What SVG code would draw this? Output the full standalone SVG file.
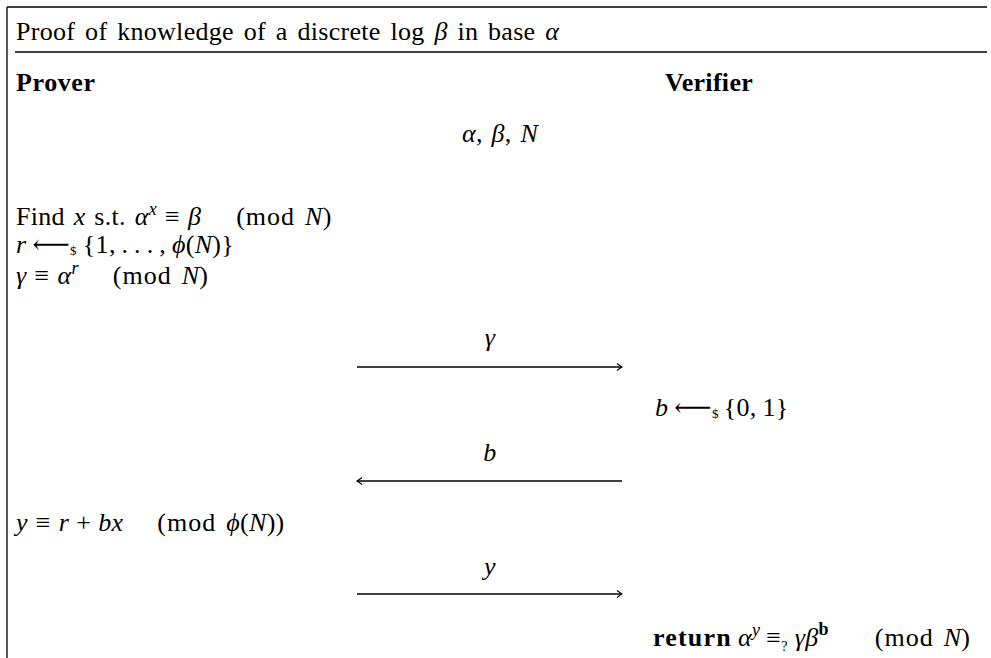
<svg xmlns="http://www.w3.org/2000/svg" width="991" height="658" viewBox="0 0 991 658">
<style>
text{font-family:"Liberation Serif","DejaVu Serif",serif;font-size:26px;fill:#000;word-spacing:2px;letter-spacing:0.3px}
.i{font-style:italic}
.b{font-weight:bold}
.s{font-size:18px}
.t{font-size:13px}
.m{letter-spacing:1px}
.frame{stroke:#000;stroke-width:1.3;fill:none}
.conn{stroke:#000;stroke-width:1.3;fill:none}
</style>
<defs>
<marker id="ah" viewBox="-8 -5 10 10" refX="0" refY="0" markerWidth="10" markerHeight="10" markerUnits="userSpaceOnUse" orient="auto">
<path d="M-5,-3.5 Q-1.5,-0.8 0,0 Q-1.5,0.8 -5,3.5" stroke="#000" stroke-width="1.1" fill="none"/>
</marker>
</defs>
<g id="frame">
<line class="frame" x1="7" y1="7" x2="7" y2="658"/>
<line class="frame" x1="7" y1="7" x2="987" y2="7"/>
<line class="frame" x1="15" y1="52" x2="987" y2="52"/>
</g>
<g id="title"><text x="16" y="40" style="word-spacing:3px">Proof of knowledge of a discrete log <tspan class="i">β</tspan> in base <tspan class="i">α</tspan></text></g>
<g id="prover"><text x="16" y="91" class="b" style="letter-spacing:0.6px">Prover</text></g>
<g id="verifier"><text x="665" y="91" class="b" style="letter-spacing:0.3px">Verifier</text></g>
<g id="public"><text x="500" y="142" text-anchor="middle"><tspan class="i">α</tspan>, <tspan class="i">β</tspan>, <tspan class="i">N</tspan></text></g>
<g id="prover-steps">
<text x="16" y="225">Find <tspan class="i">x</tspan> s.t. <tspan class="i">α</tspan><tspan class="i s" dy="-10">x</tspan><tspan dy="10" dx="8">≡</tspan><tspan class="i" dx="8">β</tspan><tspan class="m" dx="35">(mod</tspan><tspan class="i" dx="10">N</tspan>)</text>
<text x="16" y="253"><tspan class="i">r</tspan><tspan dx="6">⟵</tspan><tspan class="t" dy="2">$</tspan><tspan dy="-2" dx="6" style="word-spacing:-1px">{1, . . . , </tspan><tspan class="i">ϕ</tspan>(<tspan class="i">N</tspan>)}</text>
<text x="16" y="284"><tspan class="i">γ</tspan><tspan dx="8">≡</tspan><tspan class="i" dx="8">α</tspan><tspan class="i s" dy="-10">r</tspan><tspan class="m" dy="10" dx="34">(mod</tspan><tspan class="i" dx="10">N</tspan>)</text>
</g>
<g id="verifier-challenge"><text x="655" y="416"><tspan class="i">b</tspan><tspan dx="6">⟵</tspan><tspan class="t" dy="2">$</tspan><tspan dy="-2" dx="5" style="word-spacing:-1px">{0, 1}</tspan></text></g>
<g id="prover-response"><text x="16" y="531"><tspan class="i">y</tspan><tspan dx="8">≡</tspan><tspan class="i" dx="8">r</tspan><tspan dx="7">+</tspan><tspan class="i" dx="7">bx</tspan><tspan class="m" dx="34">(mod</tspan><tspan class="i" dx="10">ϕ</tspan>(<tspan class="i">N</tspan>))</text></g>
<g id="verifier-check"><text x="653" y="646"><tspan class="b" style="letter-spacing:1.2px">return</tspan><tspan class="i" dx="6">α</tspan><tspan class="i s" dy="-10">y</tspan><tspan dy="10" dx="6">≡</tspan><tspan class="t" style="font-size:14px" dy="5">?</tspan><tspan class="i" dy="-5" dx="7">γβ</tspan><tspan class="b s" dy="-11">b</tspan><tspan class="m" dy="11" dx="46">(mod</tspan><tspan class="i" dx="10">N</tspan>)</text></g>
<g id="connectors">
<line class="conn" x1="357" y1="367" x2="622" y2="367" marker-end="url(#ah)"/>
<line class="conn" x1="622" y1="481" x2="357" y2="481" marker-end="url(#ah)"/>
<line class="conn" x1="357" y1="594" x2="622" y2="594" marker-end="url(#ah)"/>
<text x="490" y="346" text-anchor="middle" class="i">γ</text>
<text x="490" y="461" text-anchor="middle" class="i">b</text>
<text x="490" y="575" text-anchor="middle" class="i">y</text>
</g>
</svg>
